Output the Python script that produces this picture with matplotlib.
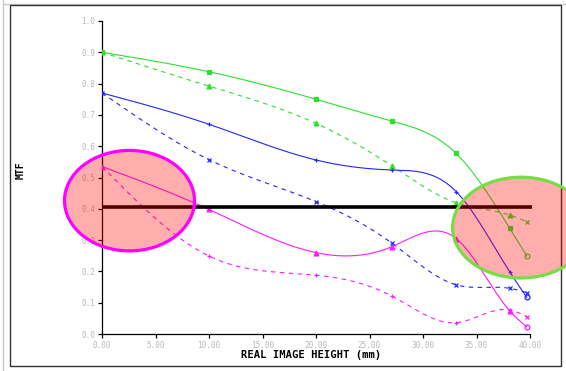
import numpy as np
import matplotlib.pyplot as plt
from matplotlib.patches import Ellipse, Rectangle
from matplotlib.lines import Line2D

# field heights (mm) where the MTF was sampled
heights = [0.0, 10.0, 20.0, 27.1, 33.1, 38.1, 39.7]

# MTF values, solid = tangential, dashed = sagittal
green_tan = [0.900, 0.838, 0.750, 0.680, 0.577, 0.338, 0.249]
green_sag = [0.900, 0.792, 0.673, 0.537, 0.419, 0.380, 0.359]
blue_tan = [0.770, 0.670, 0.556, 0.524, 0.455, 0.199, 0.117]
blue_sag = [0.770, 0.557, 0.423, 0.290, 0.157, 0.146, 0.132]
pink_tan = [0.535, 0.398, 0.260, 0.279, 0.305, 0.074, 0.023]
pink_sag = [0.535, 0.249, 0.188, 0.121, 0.036, 0.077, 0.055]

threshold = 0.405

y_ticks = [0.0, 0.1, 0.2, 0.3, 0.4, 0.5, 0.6, 0.7, 0.8, 0.9, 1.0]
x_ticks = [0, 5, 10, 15, 20, 25, 30, 35, 40]


def smooth(xs, ys, n=300):
    # natural cubic spline, only used to draw the curve between samples
    xs = np.asarray(xs, float)
    ys = np.asarray(ys, float)
    k = len(xs)
    h = np.diff(xs)
    A = np.zeros((k, k))
    b = np.zeros(k)
    A[0, 0] = A[-1, -1] = 1.0
    for i in range(1, k - 1):
        A[i, i - 1] = h[i - 1]
        A[i, i] = 2 * (h[i - 1] + h[i])
        A[i, i + 1] = h[i]
        b[i] = 3 * ((ys[i + 1] - ys[i]) / h[i] - (ys[i] - ys[i - 1]) / h[i - 1])
    c = np.linalg.solve(A, b)
    xx = np.linspace(xs[0], xs[-1], n)
    idx = np.clip(np.searchsorted(xs, xx) - 1, 0, k - 2)
    dx = xx - xs[idx]
    hb = h[idx]
    bb = (ys[idx + 1] - ys[idx]) / hb - hb * (2 * c[idx] + c[idx + 1]) / 3
    dd = (c[idx + 1] - c[idx]) / (3 * hb)
    yy = ys[idx] + bb * dx + c[idx] * dx ** 2 + dd * dx ** 3
    return xx, yy


fig = plt.figure(figsize=(5.66, 3.71), dpi=100)
ax = fig.add_axes([102 / 566, 37 / 371, 428 / 566, 313 / 371])

series = [
    (green_tan, '#2ee02e', '-', 's'),
    (green_sag, '#2ee02e', '--', '^'),
    (blue_tan, '#2424ff', '-', '+'),
    (blue_sag, '#2424ff', '--', 'x'),
    (pink_tan, '#ff1aff', '-', '^'),
    (pink_sag, '#ff1aff', '--', '+'),
]
for vals, col, ls, mk in series:
    xx, yy = smooth(heights, vals)
    line, = ax.plot(xx, yy, color=col, lw=0.8, ls=ls, zorder=3)
    if ls == '--':
        line.set_dashes((4, 4))
    ax.plot(heights[:-1], vals[:-1], ls='none', marker=mk, ms=3.5, mew=0.9,
            color=col, mfc=col, zorder=4)
    ax.plot(heights[-1:], vals[-1:], ls='none', marker='o' if ls == '-' else 'x',
            ms=3.5, mew=0.9, color=col, mfc='none', zorder=4)

# threshold line
ax.plot([0, 40.2], [threshold, threshold], color='black', lw=2.6, zorder=5,
        clip_on=False, solid_capstyle='butt')

# highlight ellipses
ax.add_patch(Ellipse((2.57, 0.426), 12.15, 0.321, facecolor=(1, 0, 0, 0.32),
                     edgecolor='#ff00ff', lw=2.3, zorder=6, clip_on=False))
ax.add_patch(Ellipse((39.16, 0.340), 12.8, 0.322, facecolor=(1, 0, 0, 0.32),
                     edgecolor='#77dd44', lw=2.3, zorder=6, clip_on=False))

ax.set_xlim(0, 40)
ax.set_ylim(0, 1)
ax.spines['top'].set_visible(False)
ax.spines['right'].set_visible(False)
ax.spines['left'].set_linewidth(0.9)
ax.spines['bottom'].set_linewidth(0.9)
ax.set_yticks(y_ticks)
ax.set_yticklabels([f'{v:.1f}' for v in y_ticks])
ax.set_xticks(x_ticks)
ax.set_xticklabels([f'{v:.2f}' for v in x_ticks])
ax.tick_params(direction='out', length=3, width=0.9, colors='black',
               labelcolor='#b8b8b8', labelsize=5.5, pad=2)
for lab in ax.get_xticklabels() + ax.get_yticklabels():
    lab.set_family('DejaVu Sans Mono')

fig.text(311 / 566, 1 - 355 / 371, 'REAL IMAGE HEIGHT (mm)', ha='center', va='center',
         family='DejaVu Sans Mono', weight='bold', fontsize=7.6)
fig.text(21 / 566, 1 - 170 / 371, 'MTF', ha='center', va='center', rotation=90,
         family='DejaVu Sans Mono', weight='bold', fontsize=7)

# outer frame, drawn beneath the axes content
fig.patches.append(Rectangle((10 / 566, 1 - 366 / 371), 551 / 566, 361 / 371,
                             transform=fig.transFigure, fill=False,
                             edgecolor='#333333', lw=1.0, zorder=-1))
fig.lines.append(Line2D([3 / 566, 3 / 566], [0, 1], transform=fig.transFigure,
                        color='#c8c8c8', lw=1.0, zorder=-1))
fig.lines.append(Line2D([3 / 566, 1], [1 - 4 / 371, 1 - 4 / 371], transform=fig.transFigure,
                        color='#c8c8c8', lw=1.0, zorder=-1))

fig.savefig('out.png', dpi=100)
